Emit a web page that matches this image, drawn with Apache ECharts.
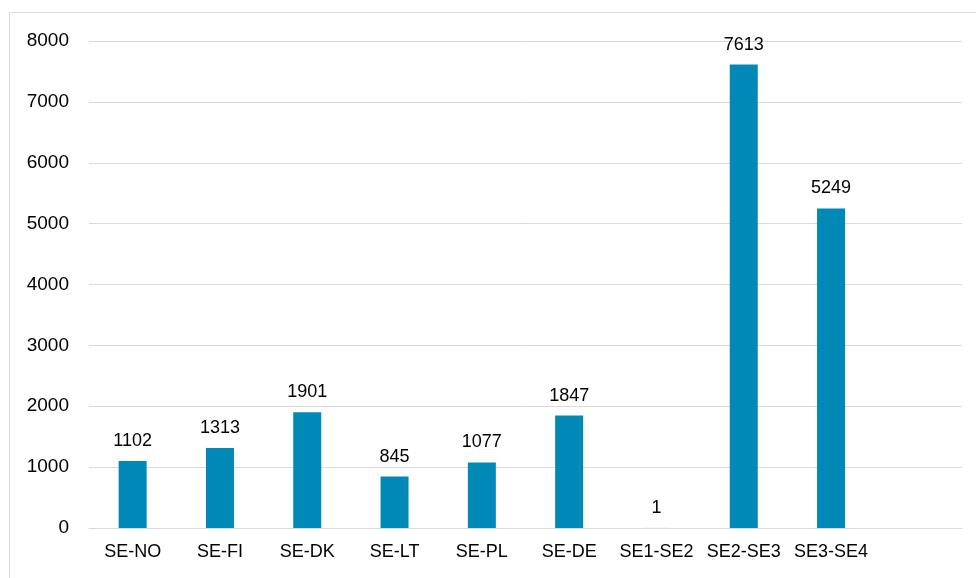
<!DOCTYPE html>
<html>
<head>
<meta charset="utf-8">
<script src="https://cdn.jsdelivr.net/npm/echarts@6/dist/echarts.min.js"></script>
<style>
  html, body { margin: 0; padding: 0; background: #fff; }
  #main { width: 976px; height: 578px; }
</style>
</head>
<body>
<div id="main"></div>
<script>
// categories (last slot is empty in the original)
var categories = ['SE-NO', 'SE-FI', 'SE-DK', 'SE-LT', 'SE-PL', 'SE-DE', 'SE1-SE2', 'SE2-SE3', 'SE3-SE4', ''];
var values = [1102, 1313, 1901, 845, 1077, 1847, 1, 7613, 5249, null];
var yTicks = [0, 1000, 2000, 3000, 4000, 5000, 6000, 7000, 8000];

var chart = echarts.init(document.getElementById('main'));
var font = 'Liberation Sans, Arial, sans-serif';

var option = {
  animation: false,
  graphic: [{
    type: 'rect',
    shape: { x: 9.5, y: 12.5, width: 1000, height: 600 },
    style: { fill: 'none', stroke: '#d9d9d9', lineWidth: 1 },
    silent: true
  }],
  grid: { left: 89, right: 14, top: 41, bottom: 50 },
  xAxis: {
    type: 'category',
    data: categories,
    axisLine: { lineStyle: { color: '#d9d9d9' } },
    axisTick: { show: false },
    axisLabel: { color: '#000', fontSize: 18, fontFamily: font, margin: 15, interval: 0 }
  },
  yAxis: {
    type: 'value',
    min: yTicks[0],
    max: yTicks[yTicks.length - 1],
    interval: 1000,
    axisLine: { show: false },
    axisTick: { show: false },
    splitLine: { lineStyle: { color: '#d9d9d9', width: 1 } },
    axisLabel: {
      color: '#000', fontSize: 19, fontFamily: font, margin: 20,
      formatter: function (v) { return String(v); }
    }
  },
  series: [{
    type: 'bar',
    data: values,
    barWidth: 28,
    itemStyle: { color: '#0089b6' },
    label: {
      show: true,
      position: 'top',
      distance: 11,
      color: '#000',
      fontSize: 18,
      fontFamily: font
    }
  }]
};
chart.setOption(option);
</script>
</body>
</html>
